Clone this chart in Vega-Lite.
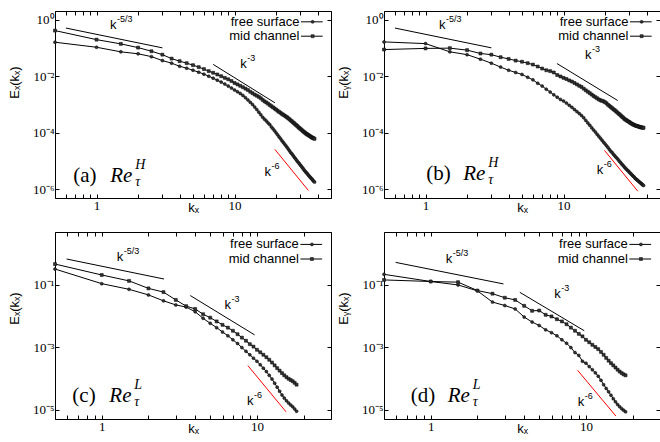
{
"$schema": "https://vega.github.io/schema/vega-lite/v6.json",
"padding": {"left": 7, "top": 10, "right": 0, "bottom": 0},
"background": "white",
"bounds": "flush",
"spacing": {"row": 34, "column": 53},
"columns": 2,
"datasets": {
"sa": [
{"s":"f","k":0.5,"E":1.58e-1},{"s":"f","k":1,"E":1.05e-1},{"s":"f","k":1.5,"E":7.24e-2},{"s":"f","k":2,"E":6.17e-2},{"s":"f","k":2.5,"E":4.90e-2},{"s":"f","k":3,"E":3.55e-2},{"s":"f","k":3.5,"E":2.88e-2},{"s":"f","k":4,"E":2.24e-2},{"s":"f","k":4.5,"E":1.91e-2},{"s":"f","k":5,"E":1.62e-2},{"s":"f","k":5.5,"E":1.38e-2},{"s":"f","k":6,"E":1.18e-2},{"s":"f","k":6.5,"E":1.00e-2},{"s":"f","k":7,"E":8.51e-3},{"s":"f","k":7.5,"E":7.24e-3},{"s":"f","k":8,"E":6.17e-3},{"s":"f","k":8.5,"E":5.25e-3},{"s":"f","k":9,"E":4.47e-3},{"s":"f","k":9.5,"E":3.80e-3},{"s":"f","k":10,"E":3.24e-3},{"s":"f","k":10.5,"E":2.82e-3},{"s":"f","k":11,"E":2.45e-3},{"s":"f","k":11.5,"E":2.09e-3},{"s":"f","k":12,"E":1.74e-3},{"s":"f","k":12.5,"E":1.45e-3},{"s":"f","k":13,"E":1.20e-3},{"s":"f","k":13.5,"E":1.00e-3},{"s":"f","k":14,"E":8.13e-4},{"s":"f","k":14.5,"E":6.61e-4},{"s":"f","k":15,"E":5.37e-4},{"s":"f","k":15.5,"E":4.37e-4},{"s":"f","k":16,"E":3.55e-4},{"s":"f","k":16.5,"E":3.02e-4},{"s":"f","k":17,"E":2.63e-4},{"s":"f","k":17.5,"E":2.24e-4},{"s":"f","k":18,"E":1.95e-4},{"s":"f","k":18.5,"E":1.62e-4},{"s":"f","k":19,"E":1.38e-4},{"s":"f","k":19.5,"E":1.18e-4},{"s":"f","k":20,"E":1.00e-4},{"s":"f","k":20.5,"E":8.51e-5},{"s":"f","k":21,"E":7.24e-5},{"s":"f","k":21.5,"E":6.31e-5},{"s":"f","k":22,"E":5.37e-5},{"s":"f","k":22.5,"E":4.68e-5},{"s":"f","k":23,"E":4.07e-5},{"s":"f","k":23.5,"E":3.55e-5},{"s":"f","k":24,"E":3.09e-5},{"s":"f","k":24.5,"E":2.69e-5},{"s":"f","k":25,"E":2.34e-5},{"s":"f","k":25.5,"E":2.04e-5},{"s":"f","k":26,"E":1.82e-5},{"s":"f","k":26.5,"E":1.62e-5},{"s":"f","k":27,"E":1.41e-5},{"s":"f","k":27.5,"E":1.26e-5},{"s":"f","k":28,"E":1.12e-5},{"s":"f","k":28.5,"E":1.00e-5},{"s":"f","k":29,"E":8.91e-6},{"s":"f","k":29.5,"E":8.13e-6},{"s":"f","k":30,"E":7.24e-6},{"s":"f","k":30.5,"E":6.61e-6},{"s":"f","k":31,"E":5.89e-6},{"s":"f","k":31.5,"E":5.37e-6},{"s":"f","k":32,"E":4.79e-6},{"s":"f","k":32.5,"E":4.37e-6},{"s":"f","k":33,"E":3.98e-6},{"s":"f","k":33.5,"E":3.72e-6},{"s":"f","k":34,"E":3.39e-6},{"s":"f","k":34.5,"E":3.09e-6},{"s":"f","k":35,"E":2.88e-6},{"s":"f","k":35.5,"E":2.63e-6},{"s":"f","k":36,"E":2.45e-6},{"s":"f","k":36.5,"E":2.29e-6},{"s":"f","k":37,"E":2.09e-6},{"s":"f","k":37.5,"E":1.95e-6},{"s":"f","k":38,"E":1.82e-6},
{"s":"m","k":0.5,"E":4.07e-1},{"s":"m","k":1,"E":1.95e-1},{"s":"m","k":1.5,"E":1.38e-1},{"s":"m","k":2,"E":1.02e-1},{"s":"m","k":2.5,"E":7.59e-2},{"s":"m","k":3,"E":5.75e-2},{"s":"m","k":3.5,"E":4.17e-2},{"s":"m","k":4,"E":3.39e-2},{"s":"m","k":4.5,"E":2.88e-2},{"s":"m","k":5,"E":2.45e-2},{"s":"m","k":5.5,"E":2.09e-2},{"s":"m","k":6,"E":1.78e-2},{"s":"m","k":6.5,"E":1.51e-2},{"s":"m","k":7,"E":1.32e-2},{"s":"m","k":7.5,"E":1.15e-2},{"s":"m","k":8,"E":1.00e-2},{"s":"m","k":8.5,"E":8.71e-3},{"s":"m","k":9,"E":7.76e-3},{"s":"m","k":9.5,"E":6.76e-3},{"s":"m","k":10,"E":5.75e-3},{"s":"m","k":10.5,"E":5.13e-3},{"s":"m","k":11,"E":4.57e-3},{"s":"m","k":11.5,"E":4.07e-3},{"s":"m","k":12,"E":3.63e-3},{"s":"m","k":12.5,"E":3.24e-3},{"s":"m","k":13,"E":2.82e-3},{"s":"m","k":13.5,"E":2.51e-3},{"s":"m","k":14,"E":2.24e-3},{"s":"m","k":14.5,"E":2.04e-3},{"s":"m","k":15,"E":1.86e-3},{"s":"m","k":15.5,"E":1.66e-3},{"s":"m","k":16,"E":1.45e-3},{"s":"m","k":16.5,"E":1.29e-3},{"s":"m","k":17,"E":1.18e-3},{"s":"m","k":17.5,"E":1.07e-3},{"s":"m","k":18,"E":9.55e-4},{"s":"m","k":18.5,"E":8.71e-4},{"s":"m","k":19,"E":7.94e-4},{"s":"m","k":19.5,"E":7.24e-4},{"s":"m","k":20,"E":6.61e-4},{"s":"m","k":20.5,"E":6.03e-4},{"s":"m","k":21,"E":5.50e-4},{"s":"m","k":21.5,"E":5.13e-4},{"s":"m","k":22,"E":4.68e-4},{"s":"m","k":22.5,"E":4.37e-4},{"s":"m","k":23,"E":4.07e-4},{"s":"m","k":23.5,"E":3.80e-4},{"s":"m","k":24,"E":3.55e-4},{"s":"m","k":24.5,"E":3.24e-4},{"s":"m","k":25,"E":3.02e-4},{"s":"m","k":25.5,"E":2.75e-4},{"s":"m","k":26,"E":2.57e-4},{"s":"m","k":26.5,"E":2.34e-4},{"s":"m","k":27,"E":2.19e-4},{"s":"m","k":27.5,"E":2.00e-4},{"s":"m","k":28,"E":1.86e-4},{"s":"m","k":28.5,"E":1.74e-4},{"s":"m","k":29,"E":1.58e-4},{"s":"m","k":29.5,"E":1.48e-4},{"s":"m","k":30,"E":1.38e-4},{"s":"m","k":30.5,"E":1.29e-4},{"s":"m","k":31,"E":1.20e-4},{"s":"m","k":31.5,"E":1.12e-4},{"s":"m","k":32,"E":1.05e-4},{"s":"m","k":32.5,"E":1.00e-4},{"s":"m","k":33,"E":9.33e-5},{"s":"m","k":33.5,"E":8.91e-5},{"s":"m","k":34,"E":8.51e-5},{"s":"m","k":34.5,"E":8.13e-5},{"s":"m","k":35,"E":7.76e-5},{"s":"m","k":35.5,"E":7.41e-5},{"s":"m","k":36,"E":7.08e-5},{"s":"m","k":36.5,"E":6.76e-5},{"s":"m","k":37,"E":6.61e-5},{"s":"m","k":37.5,"E":6.31e-5},{"s":"m","k":38,"E":6.17e-5}
],
"sb": [
{"s":"f","k":0.5,"E":1.62e-1},{"s":"f","k":1,"E":1.41e-1},{"s":"f","k":1.5,"E":7.24e-2},{"s":"f","k":2,"E":5.75e-2},{"s":"f","k":2.5,"E":3.98e-2},{"s":"f","k":3,"E":2.88e-2},{"s":"f","k":3.5,"E":2.09e-2},{"s":"f","k":4,"E":1.62e-2},{"s":"f","k":4.5,"E":1.35e-2},{"s":"f","k":5,"E":1.15e-2},{"s":"f","k":5.5,"E":9.12e-3},{"s":"f","k":6,"E":7.41e-3},{"s":"f","k":6.5,"E":5.62e-3},{"s":"f","k":7,"E":4.47e-3},{"s":"f","k":7.5,"E":3.47e-3},{"s":"f","k":8,"E":2.75e-3},{"s":"f","k":8.5,"E":2.19e-3},{"s":"f","k":9,"E":1.82e-3},{"s":"f","k":9.5,"E":1.51e-3},{"s":"f","k":10,"E":1.32e-3},{"s":"f","k":10.5,"E":1.12e-3},{"s":"f","k":11,"E":9.33e-4},{"s":"f","k":11.5,"E":7.94e-4},{"s":"f","k":12,"E":6.61e-4},{"s":"f","k":12.5,"E":5.62e-4},{"s":"f","k":13,"E":4.79e-4},{"s":"f","k":13.5,"E":4.07e-4},{"s":"f","k":14,"E":3.39e-4},{"s":"f","k":14.5,"E":2.75e-4},{"s":"f","k":15,"E":2.24e-4},{"s":"f","k":15.5,"E":1.86e-4},{"s":"f","k":16,"E":1.51e-4},{"s":"f","k":16.5,"E":1.26e-4},{"s":"f","k":17,"E":1.07e-4},{"s":"f","k":17.5,"E":8.91e-5},{"s":"f","k":18,"E":7.59e-5},{"s":"f","k":18.5,"E":6.46e-5},{"s":"f","k":19,"E":5.50e-5},{"s":"f","k":19.5,"E":4.68e-5},{"s":"f","k":20,"E":4.07e-5},{"s":"f","k":20.5,"E":3.47e-5},{"s":"f","k":21,"E":3.02e-5},{"s":"f","k":21.5,"E":2.57e-5},{"s":"f","k":22,"E":2.24e-5},{"s":"f","k":22.5,"E":2.00e-5},{"s":"f","k":23,"E":1.74e-5},{"s":"f","k":23.5,"E":1.55e-5},{"s":"f","k":24,"E":1.38e-5},{"s":"f","k":24.5,"E":1.23e-5},{"s":"f","k":25,"E":1.10e-5},{"s":"f","k":25.5,"E":9.77e-6},{"s":"f","k":26,"E":8.71e-6},{"s":"f","k":26.5,"E":7.76e-6},{"s":"f","k":27,"E":7.08e-6},{"s":"f","k":27.5,"E":6.31e-6},{"s":"f","k":28,"E":5.75e-6},{"s":"f","k":28.5,"E":5.25e-6},{"s":"f","k":29,"E":4.79e-6},{"s":"f","k":29.5,"E":4.47e-6},{"s":"f","k":30,"E":4.07e-6},{"s":"f","k":30.5,"E":3.72e-6},{"s":"f","k":31,"E":3.47e-6},{"s":"f","k":31.5,"E":3.16e-6},{"s":"f","k":32,"E":2.95e-6},{"s":"f","k":32.5,"E":2.75e-6},{"s":"f","k":33,"E":2.51e-6},{"s":"f","k":33.5,"E":2.34e-6},{"s":"f","k":34,"E":2.19e-6},{"s":"f","k":34.5,"E":2.09e-6},{"s":"f","k":35,"E":1.95e-6},{"s":"f","k":35.5,"E":1.82e-6},{"s":"f","k":36,"E":1.74e-6},{"s":"f","k":36.5,"E":1.62e-6},{"s":"f","k":37,"E":1.55e-6},{"s":"f","k":37.5,"E":1.45e-6},{"s":"f","k":38,"E":1.38e-6},
{"s":"m","k":0.5,"E":8.71e-2},{"s":"m","k":1,"E":9.55e-2},{"s":"m","k":1.5,"E":9.77e-2},{"s":"m","k":2,"E":8.32e-2},{"s":"m","k":2.5,"E":6.31e-2},{"s":"m","k":3,"E":5.75e-2},{"s":"m","k":3.5,"E":4.68e-2},{"s":"m","k":4,"E":4.07e-2},{"s":"m","k":4.5,"E":3.55e-2},{"s":"m","k":5,"E":3.24e-2},{"s":"m","k":5.5,"E":2.88e-2},{"s":"m","k":6,"E":2.57e-2},{"s":"m","k":6.5,"E":2.19e-2},{"s":"m","k":7,"E":1.86e-2},{"s":"m","k":7.5,"E":1.62e-2},{"s":"m","k":8,"E":1.51e-2},{"s":"m","k":8.5,"E":1.35e-2},{"s":"m","k":9,"E":1.10e-2},{"s":"m","k":9.5,"E":9.77e-3},{"s":"m","k":10,"E":8.71e-3},{"s":"m","k":10.5,"E":7.94e-3},{"s":"m","k":11,"E":7.08e-3},{"s":"m","k":11.5,"E":6.46e-3},{"s":"m","k":12,"E":5.75e-3},{"s":"m","k":12.5,"E":5.13e-3},{"s":"m","k":13,"E":4.57e-3},{"s":"m","k":13.5,"E":4.17e-3},{"s":"m","k":14,"E":3.63e-3},{"s":"m","k":14.5,"E":3.16e-3},{"s":"m","k":15,"E":2.82e-3},{"s":"m","k":15.5,"E":2.51e-3},{"s":"m","k":16,"E":2.24e-3},{"s":"m","k":16.5,"E":2.00e-3},{"s":"m","k":17,"E":1.82e-3},{"s":"m","k":17.5,"E":1.66e-3},{"s":"m","k":18,"E":1.51e-3},{"s":"m","k":18.5,"E":1.41e-3},{"s":"m","k":19,"E":1.35e-3},{"s":"m","k":19.5,"E":1.29e-3},{"s":"m","k":20,"E":1.20e-3},{"s":"m","k":20.5,"E":1.10e-3},{"s":"m","k":21,"E":9.77e-4},{"s":"m","k":21.5,"E":8.91e-4},{"s":"m","k":22,"E":8.13e-4},{"s":"m","k":22.5,"E":7.41e-4},{"s":"m","k":23,"E":6.76e-4},{"s":"m","k":23.5,"E":6.31e-4},{"s":"m","k":24,"E":5.75e-4},{"s":"m","k":24.5,"E":5.25e-4},{"s":"m","k":25,"E":4.79e-4},{"s":"m","k":25.5,"E":4.47e-4},{"s":"m","k":26,"E":4.07e-4},{"s":"m","k":26.5,"E":3.72e-4},{"s":"m","k":27,"E":3.47e-4},{"s":"m","k":27.5,"E":3.16e-4},{"s":"m","k":28,"E":2.95e-4},{"s":"m","k":28.5,"E":2.82e-4},{"s":"m","k":29,"E":2.63e-4},{"s":"m","k":29.5,"E":2.51e-4},{"s":"m","k":30,"E":2.40e-4},{"s":"m","k":30.5,"E":2.24e-4},{"s":"m","k":31,"E":2.14e-4},{"s":"m","k":31.5,"E":2.04e-4},{"s":"m","k":32,"E":1.95e-4},{"s":"m","k":32.5,"E":1.91e-4},{"s":"m","k":33,"E":1.82e-4},{"s":"m","k":33.5,"E":1.78e-4},{"s":"m","k":34,"E":1.74e-4},{"s":"m","k":34.5,"E":1.70e-4},{"s":"m","k":35,"E":1.66e-4},{"s":"m","k":35.5,"E":1.62e-4},{"s":"m","k":36,"E":1.58e-4},{"s":"m","k":36.5,"E":1.55e-4},{"s":"m","k":37,"E":1.55e-4},{"s":"m","k":37.5,"E":1.51e-4},{"s":"m","k":38,"E":1.51e-4}
],
"sc": [
{"s":"f","k":0.5,"E":3.24e-1},{"s":"f","k":1,"E":1.10e-1},{"s":"f","k":1.5,"E":7.24e-2},{"s":"f","k":2,"E":4.79e-2},{"s":"f","k":2.5,"E":3.09e-2},{"s":"f","k":3,"E":2.29e-2},{"s":"f","k":3.5,"E":1.95e-2},{"s":"f","k":4,"E":1.38e-2},{"s":"f","k":4.5,"E":8.51e-3},{"s":"f","k":5,"E":5.89e-3},{"s":"f","k":5.5,"E":4.27e-3},{"s":"f","k":6,"E":3.09e-3},{"s":"f","k":6.5,"E":2.34e-3},{"s":"f","k":7,"E":1.74e-3},{"s":"f","k":7.5,"E":1.32e-3},{"s":"f","k":8,"E":9.77e-4},{"s":"f","k":8.5,"E":7.41e-4},{"s":"f","k":9,"E":5.75e-4},{"s":"f","k":9.5,"E":4.47e-4},{"s":"f","k":10,"E":3.55e-4},{"s":"f","k":10.5,"E":2.75e-4},{"s":"f","k":11,"E":2.14e-4},{"s":"f","k":11.5,"E":1.66e-4},{"s":"f","k":12,"E":1.26e-4},{"s":"f","k":12.5,"E":9.55e-5},{"s":"f","k":13,"E":7.08e-5},{"s":"f","k":13.5,"E":5.25e-5},{"s":"f","k":14,"E":3.89e-5},{"s":"f","k":14.5,"E":2.95e-5},{"s":"f","k":15,"E":2.34e-5},{"s":"f","k":15.5,"E":1.91e-5},{"s":"f","k":16,"E":1.62e-5},{"s":"f","k":16.5,"E":1.41e-5},{"s":"f","k":17,"E":1.23e-5},{"s":"f","k":17.5,"E":1.05e-5},{"s":"f","k":18,"E":8.91e-6},
{"s":"m","k":0.5,"E":4.68e-1},{"s":"m","k":1,"E":2.09e-1},{"s":"m","k":1.5,"E":1.35e-1},{"s":"m","k":2,"E":7.76e-2},{"s":"m","k":2.5,"E":5.89e-2},{"s":"m","k":3,"E":3.31e-2},{"s":"m","k":3.5,"E":2.09e-2},{"s":"m","k":4,"E":1.70e-2},{"s":"m","k":4.5,"E":1.15e-2},{"s":"m","k":5,"E":8.91e-3},{"s":"m","k":5.5,"E":6.76e-3},{"s":"m","k":6,"E":5.25e-3},{"s":"m","k":6.5,"E":4.27e-3},{"s":"m","k":7,"E":3.39e-3},{"s":"m","k":7.5,"E":2.63e-3},{"s":"m","k":8,"E":2.04e-3},{"s":"m","k":8.5,"E":1.62e-3},{"s":"m","k":9,"E":1.26e-3},{"s":"m","k":9.5,"E":1.05e-3},{"s":"m","k":10,"E":8.32e-4},{"s":"m","k":10.5,"E":6.92e-4},{"s":"m","k":11,"E":5.75e-4},{"s":"m","k":11.5,"E":4.79e-4},{"s":"m","k":12,"E":3.98e-4},{"s":"m","k":12.5,"E":3.24e-4},{"s":"m","k":13,"E":2.63e-4},{"s":"m","k":13.5,"E":2.14e-4},{"s":"m","k":14,"E":1.78e-4},{"s":"m","k":14.5,"E":1.48e-4},{"s":"m","k":15,"E":1.26e-4},{"s":"m","k":15.5,"E":1.10e-4},{"s":"m","k":16,"E":9.77e-5},{"s":"m","k":16.5,"E":8.91e-5},{"s":"m","k":17,"E":8.13e-5},{"s":"m","k":17.5,"E":7.24e-5},{"s":"m","k":18,"E":6.31e-5}
],
"sd": [
{"s":"f","k":0.5,"E":2.19e-1},{"s":"f","k":1,"E":1.29e-1},{"s":"f","k":1.5,"E":1.00e-1},{"s":"f","k":2,"E":6.46e-2},{"s":"f","k":2.5,"E":2.82e-2},{"s":"f","k":3,"E":2.19e-2},{"s":"f","k":3.5,"E":1.70e-2},{"s":"f","k":4,"E":9.33e-3},{"s":"f","k":4.5,"E":6.46e-3},{"s":"f","k":5,"E":5.01e-3},{"s":"f","k":5.5,"E":3.63e-3},{"s":"f","k":6,"E":2.95e-3},{"s":"f","k":6.5,"E":2.34e-3},{"s":"f","k":7,"E":1.74e-3},{"s":"f","k":7.5,"E":1.35e-3},{"s":"f","k":8,"E":9.77e-4},{"s":"f","k":8.5,"E":6.76e-4},{"s":"f","k":9,"E":5.50e-4},{"s":"f","k":9.5,"E":3.55e-4},{"s":"f","k":10,"E":3.09e-4},{"s":"f","k":10.5,"E":2.40e-4},{"s":"f","k":11,"E":1.91e-4},{"s":"f","k":11.5,"E":1.51e-4},{"s":"f","k":12,"E":1.18e-4},{"s":"f","k":12.5,"E":8.71e-5},{"s":"f","k":13,"E":6.31e-5},{"s":"f","k":13.5,"E":4.79e-5},{"s":"f","k":14,"E":3.72e-5},{"s":"f","k":14.5,"E":2.88e-5},{"s":"f","k":15,"E":2.24e-5},{"s":"f","k":15.5,"E":1.78e-5},{"s":"f","k":16,"E":1.45e-5},{"s":"f","k":16.5,"E":1.23e-5},{"s":"f","k":17,"E":1.07e-5},{"s":"f","k":17.5,"E":9.55e-6},{"s":"f","k":18,"E":8.51e-6},
{"s":"m","k":0.5,"E":1.45e-1},{"s":"m","k":1,"E":1.29e-1},{"s":"m","k":1.5,"E":1.23e-1},{"s":"m","k":2,"E":6.61e-2},{"s":"m","k":2.5,"E":5.25e-2},{"s":"m","k":3,"E":3.89e-2},{"s":"m","k":3.5,"E":3.31e-2},{"s":"m","k":4,"E":2.14e-2},{"s":"m","k":4.5,"E":1.48e-2},{"s":"m","k":5,"E":1.51e-2},{"s":"m","k":5.5,"E":1.10e-2},{"s":"m","k":6,"E":9.77e-3},{"s":"m","k":6.5,"E":7.94e-3},{"s":"m","k":7,"E":6.76e-3},{"s":"m","k":7.5,"E":5.50e-3},{"s":"m","k":8,"E":4.27e-3},{"s":"m","k":8.5,"E":3.39e-3},{"s":"m","k":9,"E":2.69e-3},{"s":"m","k":9.5,"E":2.24e-3},{"s":"m","k":10,"E":1.74e-3},{"s":"m","k":10.5,"E":1.45e-3},{"s":"m","k":11,"E":1.20e-3},{"s":"m","k":11.5,"E":1.02e-3},{"s":"m","k":12,"E":8.71e-4},{"s":"m","k":12.5,"E":7.08e-4},{"s":"m","k":13,"E":5.75e-4},{"s":"m","k":13.5,"E":4.57e-4},{"s":"m","k":14,"E":3.72e-4},{"s":"m","k":14.5,"E":3.09e-4},{"s":"m","k":15,"E":2.63e-4},{"s":"m","k":15.5,"E":2.24e-4},{"s":"m","k":16,"E":1.91e-4},{"s":"m","k":16.5,"E":1.66e-4},{"s":"m","k":17,"E":1.48e-4},{"s":"m","k":17.5,"E":1.35e-4},{"s":"m","k":18,"E":1.26e-4}
],
"ref": [
{"p":"a","slope":"-5/3","x1":0.6,"y1":0.5,"x2":3,"y2":0.1},
{"p":"a","slope":"-3","x1":7,"y1":0.026,"x2":19.6,"y2":0.00115},
{"p":"a","slope":"-6","x1":19.6,"y1":2.6e-5,"x2":34.3,"y2":9.2e-7},
{"p":"b","slope":"-5/3","x1":0.6,"y1":0.5,"x2":3,"y2":0.1},
{"p":"b","slope":"-3","x1":8.95,"y1":0.028,"x2":24.7,"y2":0.00138},
{"p":"b","slope":"-6","x1":19.8,"y1":2.4e-5,"x2":34.5,"y2":8.7e-7},
{"p":"c","slope":"-5/3","x1":0.594,"y1":0.68,"x2":2.52,"y2":0.155},
{"p":"c","slope":"-3","x1":3.72,"y1":0.0457,"x2":9.66,"y2":0.0025},
{"p":"c","slope":"-6","x1":8.75,"y1":2.57e-4,"x2":15.4,"y2":8.5e-6},
{"p":"d","slope":"-5/3","x1":0.594,"y1":0.53,"x2":2.94,"y2":0.108},
{"p":"d","slope":"-3","x1":3.75,"y1":0.058,"x2":9.75,"y2":0.0034},
{"p":"d","slope":"-6","x1":8.84,"y1":1.82e-4,"x2":15.6,"y2":6.2e-6}
],
"lab": [
{"p":"a","slope":"-5/3","x":1.25,"y":0.667},{"p":"a","slope":"-3","x":11.0,"y":0.0265},{"p":"a","slope":"-6","x":16.5,"y":4.2e-6},
{"p":"b","slope":"-5/3","x":1.25,"y":0.667},{"p":"b","slope":"-3","x":14.3,"y":0.0537},{"p":"b","slope":"-6","x":17.4,"y":4.7e-6},
{"p":"c","slope":"-5/3","x":1.25,"y":0.787},{"p":"c","slope":"-3","x":6.19,"y":0.0229},{"p":"c","slope":"-6","x":8.62,"y":1.94e-5},
{"p":"d","slope":"-5/3","x":1.25,"y":0.679},{"p":"d","slope":"-3","x":6.25,"y":0.0528},{"p":"d","slope":"-6","x":8.84,"y":1.72e-5}
],
"tag": [
{"p":"a","tag":"(a)","sup":"H","x":0.678,"y":2.95e-6},
{"p":"b","tag":"(b)","sup":"H","x":1.01,"y":3.4e-6},
{"p":"c","tag":"(c)","sup":"L","x":0.647,"y":2.67e-5},
{"p":"d","tag":"(d)","sup":"L","x":0.743,"y":2.67e-5}
],
"leg": [
{"p":"a","s":"f","name":"free surface","xt":29.5,"x1":30.3,"x2":43.5,"xm":36.8,"y":0.83},
{"p":"a","s":"m","name":"mid channel","xt":29.5,"x1":30.3,"x2":43.5,"xm":36.8,"y":0.258},
{"p":"b","s":"f","name":"free surface","xt":29.5,"x1":30.3,"x2":43.5,"xm":36.8,"y":0.83},
{"p":"b","s":"m","name":"mid channel","xt":29.5,"x1":30.3,"x2":43.5,"xm":36.8,"y":0.258},
{"p":"c","s":"f","name":"free surface","xt":18.6,"x1":19.05,"x2":26.3,"xm":22.6,"y":2.0},
{"p":"c","s":"m","name":"mid channel","xt":18.6,"x1":19.05,"x2":26.3,"xm":22.6,"y":0.68},
{"p":"d","s":"f","name":"free surface","xt":18.6,"x1":19.05,"x2":26.3,"xm":22.6,"y":2.0},
{"p":"d","s":"m","name":"mid channel","xt":18.6,"x1":19.05,"x2":26.3,"xm":22.6,"y":0.68}
]
},
"concat": [
{"width":276,"height":187,"layer":[
{"data":{"name":"sa"},"mark":{"type":"line","color":"black","strokeWidth":1},"encoding":{
"x":{"field":"k","type":"quantitative","scale":{"type":"log","domain":[0.5,50],"nice":false},"axis":{"orient":"bottom","values":[0.5,0.6,0.7,0.8,0.9,1,2,3,4,5,6,7,8,9,10,20,30,40,50],"labelExpr":"datum.value == 1 ? '1' : datum.value == 10 ? '10' : ''","title":"kₓ","titleY":13,"titleBaseline":"alphabetic"}},
"y":{"field":"E","type":"quantitative","scale":{"type":"log","domain":[5e-7,2],"nice":false},"axis":{"orient":"left","values":[1,0.01,0.0001,0.000001],"labelExpr":"datum.value > 0.5 ? '10⁰' : datum.value > 0.005 ? '10⁻²' : datum.value > 0.00005 ? '10⁻⁴' : '10⁻⁶'","title":"Eₓ(kₓ)","titleX":-37,"titleY":71,"titleBaseline":"alphabetic"}},
"detail":{"field":"s"}}},
{"data":{"name":"sa"},"mark":{"type":"point","filled":true,"color":"#333","stroke":"black","strokeWidth":0.5,"size":9,"opacity":1},"encoding":{"x":{"field":"k","type":"quantitative","axis":null},"y":{"field":"E","type":"quantitative","axis":null},"shape":{"field":"s","type":"nominal","scale":{"domain":["f","m"],"range":["circle","square"]},"legend":null}}},
{"data":{"name":"ref"},"transform":[{"filter":"datum.p == 'a' && datum.slope != '-6'"}],"mark":{"type":"rule","color":"black","strokeWidth":1},"encoding":{"x":{"field":"x1","type":"quantitative","axis":{"orient":"top","values":[0.5,0.6,0.7,0.8,0.9,1,2,3,4,5,6,7,8,9,10,20,30,40,50],"labels":false,"title":null}},"x2":{"field":"x2"},"y":{"field":"y1","type":"quantitative","axis":{"orient":"right","values":[1,0.01,0.0001,0.000001],"labels":false,"title":null}},"y2":{"field":"y2"}}},
{"data":{"name":"ref"},"transform":[{"filter":"datum.p == 'a' && datum.slope == '-6'"}],"mark":{"type":"rule","color":"red","strokeWidth":1},"encoding":{"x":{"field":"x1","type":"quantitative","axis":null},"x2":{"field":"x2"},"y":{"field":"y1","type":"quantitative","axis":null},"y2":{"field":"y2"}}},
{"data":{"name":"lab"},"transform":[{"filter":"datum.p == 'a'"}],"mark":{"type":"text","text":"k","align":"left","baseline":"middle","fontSize":13},"encoding":{"x":{"field":"x","type":"quantitative","axis":null},"y":{"field":"y","type":"quantitative","axis":null}}},
{"data":{"name":"lab"},"transform":[{"filter":"datum.p == 'a'"}],"mark":{"type":"text","align":"left","baseline":"middle","fontSize":9,"dx":7,"dy":-6},"encoding":{"x":{"field":"x","type":"quantitative","axis":null},"y":{"field":"y","type":"quantitative","axis":null},"text":{"field":"slope"}}},
{"data":{"name":"tag"},"transform":[{"filter":"datum.p == 'a'"}],"mark":{"type":"text","font":"Liberation Serif","fontSize":21,"align":"left","baseline":"middle"},"encoding":{"x":{"field":"x","type":"quantitative","axis":null},"y":{"field":"y","type":"quantitative","axis":null},"text":{"field":"tag"}}},
{"data":{"name":"tag"},"transform":[{"filter":"datum.p == 'a'"}],"mark":{"type":"text","text":"Re","font":"Liberation Serif","fontStyle":"italic","fontSize":21,"align":"left","baseline":"middle","dx":37},"encoding":{"x":{"field":"x","type":"quantitative","axis":null},"y":{"field":"y","type":"quantitative","axis":null}}},
{"data":{"name":"tag"},"transform":[{"filter":"datum.p == 'a'"}],"mark":{"type":"text","font":"Liberation Serif","fontStyle":"italic","fontSize":14,"align":"left","baseline":"middle","dx":62,"dy":-11},"encoding":{"x":{"field":"x","type":"quantitative","axis":null},"y":{"field":"y","type":"quantitative","axis":null},"text":{"field":"sup"}}},
{"data":{"name":"tag"},"transform":[{"filter":"datum.p == 'a'"}],"mark":{"type":"text","text":"τ","font":"Liberation Serif","fontStyle":"italic","fontSize":14,"align":"left","baseline":"middle","dx":62,"dy":6},"encoding":{"x":{"field":"x","type":"quantitative","axis":null},"y":{"field":"y","type":"quantitative","axis":null}}},
{"data":{"name":"leg"},"transform":[{"filter":"datum.p == 'a'"}],"mark":{"type":"text","align":"right","baseline":"middle","fontSize":13},"encoding":{"x":{"field":"xt","type":"quantitative","axis":null},"y":{"field":"y","type":"quantitative","axis":null},"text":{"field":"name"}}},
{"data":{"name":"leg"},"transform":[{"filter":"datum.p == 'a'"}],"mark":{"type":"rule","color":"black","strokeWidth":1},"encoding":{"x":{"field":"x1","type":"quantitative","axis":null},"x2":{"field":"x2"},"y":{"field":"y","type":"quantitative","axis":null}}},
{"data":{"name":"leg"},"transform":[{"filter":"datum.p == 'a'"}],"mark":{"type":"point","filled":true,"color":"#333","stroke":"black","strokeWidth":0.5,"size":9,"opacity":1},"encoding":{"x":{"field":"xm","type":"quantitative","axis":null},"y":{"field":"y","type":"quantitative","axis":null},"shape":{"field":"s","type":"nominal","legend":null}}}
]},
{"width":276,"height":187,"layer":[
{"data":{"name":"sb"},"mark":{"type":"line","color":"black","strokeWidth":1},"encoding":{
"x":{"field":"k","type":"quantitative","scale":{"type":"log","domain":[0.5,50],"nice":false},"axis":{"orient":"bottom","values":[0.5,0.6,0.7,0.8,0.9,1,2,3,4,5,6,7,8,9,10,20,30,40,50],"labelExpr":"datum.value == 1 ? '1' : datum.value == 10 ? '10' : ''","title":"kₓ","titleY":13,"titleBaseline":"alphabetic"}},
"y":{"field":"E","type":"quantitative","scale":{"type":"log","domain":[5e-7,2],"nice":false},"axis":{"orient":"left","values":[1,0.01,0.0001,0.000001],"labelExpr":"datum.value > 0.5 ? '10⁰' : datum.value > 0.005 ? '10⁻²' : datum.value > 0.00005 ? '10⁻⁴' : '10⁻⁶'","title":"Eᵧ(kₓ)","titleX":-37,"titleY":71,"titleBaseline":"alphabetic"}},
"detail":{"field":"s"}}},
{"data":{"name":"sb"},"mark":{"type":"point","filled":true,"color":"#333","stroke":"black","strokeWidth":0.5,"size":9,"opacity":1},"encoding":{"x":{"field":"k","type":"quantitative","axis":null},"y":{"field":"E","type":"quantitative","axis":null},"shape":{"field":"s","type":"nominal","scale":{"domain":["f","m"],"range":["circle","square"]},"legend":null}}},
{"data":{"name":"ref"},"transform":[{"filter":"datum.p == 'b' && datum.slope != '-6'"}],"mark":{"type":"rule","color":"black","strokeWidth":1},"encoding":{"x":{"field":"x1","type":"quantitative","axis":{"orient":"top","values":[0.5,0.6,0.7,0.8,0.9,1,2,3,4,5,6,7,8,9,10,20,30,40,50],"labels":false,"title":null}},"x2":{"field":"x2"},"y":{"field":"y1","type":"quantitative","axis":{"orient":"right","values":[1,0.01,0.0001,0.000001],"labels":false,"title":null}},"y2":{"field":"y2"}}},
{"data":{"name":"ref"},"transform":[{"filter":"datum.p == 'b' && datum.slope == '-6'"}],"mark":{"type":"rule","color":"red","strokeWidth":1},"encoding":{"x":{"field":"x1","type":"quantitative","axis":null},"x2":{"field":"x2"},"y":{"field":"y1","type":"quantitative","axis":null},"y2":{"field":"y2"}}},
{"data":{"name":"lab"},"transform":[{"filter":"datum.p == 'b'"}],"mark":{"type":"text","text":"k","align":"left","baseline":"middle","fontSize":13},"encoding":{"x":{"field":"x","type":"quantitative","axis":null},"y":{"field":"y","type":"quantitative","axis":null}}},
{"data":{"name":"lab"},"transform":[{"filter":"datum.p == 'b'"}],"mark":{"type":"text","align":"left","baseline":"middle","fontSize":9,"dx":7,"dy":-6},"encoding":{"x":{"field":"x","type":"quantitative","axis":null},"y":{"field":"y","type":"quantitative","axis":null},"text":{"field":"slope"}}},
{"data":{"name":"tag"},"transform":[{"filter":"datum.p == 'b'"}],"mark":{"type":"text","font":"Liberation Serif","fontSize":21,"align":"left","baseline":"middle"},"encoding":{"x":{"field":"x","type":"quantitative","axis":null},"y":{"field":"y","type":"quantitative","axis":null},"text":{"field":"tag"}}},
{"data":{"name":"tag"},"transform":[{"filter":"datum.p == 'b'"}],"mark":{"type":"text","text":"Re","font":"Liberation Serif","fontStyle":"italic","fontSize":21,"align":"left","baseline":"middle","dx":37},"encoding":{"x":{"field":"x","type":"quantitative","axis":null},"y":{"field":"y","type":"quantitative","axis":null}}},
{"data":{"name":"tag"},"transform":[{"filter":"datum.p == 'b'"}],"mark":{"type":"text","font":"Liberation Serif","fontStyle":"italic","fontSize":14,"align":"left","baseline":"middle","dx":62,"dy":-11},"encoding":{"x":{"field":"x","type":"quantitative","axis":null},"y":{"field":"y","type":"quantitative","axis":null},"text":{"field":"sup"}}},
{"data":{"name":"tag"},"transform":[{"filter":"datum.p == 'b'"}],"mark":{"type":"text","text":"τ","font":"Liberation Serif","fontStyle":"italic","fontSize":14,"align":"left","baseline":"middle","dx":62,"dy":6},"encoding":{"x":{"field":"x","type":"quantitative","axis":null},"y":{"field":"y","type":"quantitative","axis":null}}},
{"data":{"name":"leg"},"transform":[{"filter":"datum.p == 'b'"}],"mark":{"type":"text","align":"right","baseline":"middle","fontSize":13},"encoding":{"x":{"field":"xt","type":"quantitative","axis":null},"y":{"field":"y","type":"quantitative","axis":null},"text":{"field":"name"}}},
{"data":{"name":"leg"},"transform":[{"filter":"datum.p == 'b'"}],"mark":{"type":"rule","color":"black","strokeWidth":1},"encoding":{"x":{"field":"x1","type":"quantitative","axis":null},"x2":{"field":"x2"},"y":{"field":"y","type":"quantitative","axis":null}}},
{"data":{"name":"leg"},"transform":[{"filter":"datum.p == 'b'"}],"mark":{"type":"point","filled":true,"color":"#333","stroke":"black","strokeWidth":0.5,"size":9,"opacity":1},"encoding":{"x":{"field":"xm","type":"quantitative","axis":null},"y":{"field":"y","type":"quantitative","axis":null},"shape":{"field":"s","type":"nominal","legend":null}}}
]},
{"width":276,"height":187,"layer":[
{"data":{"name":"sc"},"mark":{"type":"line","color":"black","strokeWidth":1},"encoding":{
"x":{"field":"k","type":"quantitative","scale":{"type":"log","domain":[0.5,30],"nice":false},"axis":{"orient":"bottom","values":[0.5,0.6,0.7,0.8,0.9,1,2,3,4,5,6,7,8,9,10,20,30],"labelExpr":"datum.value == 1 ? '1' : datum.value == 10 ? '10' : ''","title":"kₓ","titleY":13,"titleBaseline":"alphabetic"}},
"y":{"field":"E","type":"quantitative","scale":{"type":"log","domain":[5e-6,5],"nice":false},"axis":{"orient":"left","values":[0.1,0.001,0.00001],"labelExpr":"datum.value > 0.05 ? '10⁻¹' : datum.value > 0.0005 ? '10⁻³' : '10⁻⁵'","title":"Eₓ(kₓ)","titleX":-37,"titleY":76,"titleBaseline":"alphabetic"}},
"detail":{"field":"s"}}},
{"data":{"name":"sc"},"mark":{"type":"point","filled":true,"color":"#333","stroke":"black","strokeWidth":0.5,"size":9,"opacity":1},"encoding":{"x":{"field":"k","type":"quantitative","axis":null},"y":{"field":"E","type":"quantitative","axis":null},"shape":{"field":"s","type":"nominal","scale":{"domain":["f","m"],"range":["circle","square"]},"legend":null}}},
{"data":{"name":"ref"},"transform":[{"filter":"datum.p == 'c' && datum.slope != '-6'"}],"mark":{"type":"rule","color":"black","strokeWidth":1},"encoding":{"x":{"field":"x1","type":"quantitative","axis":{"orient":"top","values":[0.5,0.6,0.7,0.8,0.9,1,2,3,4,5,6,7,8,9,10,20,30],"labels":false,"title":null}},"x2":{"field":"x2"},"y":{"field":"y1","type":"quantitative","axis":{"orient":"right","values":[0.1,0.001,0.00001],"labels":false,"title":null}},"y2":{"field":"y2"}}},
{"data":{"name":"ref"},"transform":[{"filter":"datum.p == 'c' && datum.slope == '-6'"}],"mark":{"type":"rule","color":"red","strokeWidth":1},"encoding":{"x":{"field":"x1","type":"quantitative","axis":null},"x2":{"field":"x2"},"y":{"field":"y1","type":"quantitative","axis":null},"y2":{"field":"y2"}}},
{"data":{"name":"lab"},"transform":[{"filter":"datum.p == 'c'"}],"mark":{"type":"text","text":"k","align":"left","baseline":"middle","fontSize":13},"encoding":{"x":{"field":"x","type":"quantitative","axis":null},"y":{"field":"y","type":"quantitative","axis":null}}},
{"data":{"name":"lab"},"transform":[{"filter":"datum.p == 'c'"}],"mark":{"type":"text","align":"left","baseline":"middle","fontSize":9,"dx":7,"dy":-6},"encoding":{"x":{"field":"x","type":"quantitative","axis":null},"y":{"field":"y","type":"quantitative","axis":null},"text":{"field":"slope"}}},
{"data":{"name":"tag"},"transform":[{"filter":"datum.p == 'c'"}],"mark":{"type":"text","font":"Liberation Serif","fontSize":21,"align":"left","baseline":"middle"},"encoding":{"x":{"field":"x","type":"quantitative","axis":null},"y":{"field":"y","type":"quantitative","axis":null},"text":{"field":"tag"}}},
{"data":{"name":"tag"},"transform":[{"filter":"datum.p == 'c'"}],"mark":{"type":"text","text":"Re","font":"Liberation Serif","fontStyle":"italic","fontSize":21,"align":"left","baseline":"middle","dx":37},"encoding":{"x":{"field":"x","type":"quantitative","axis":null},"y":{"field":"y","type":"quantitative","axis":null}}},
{"data":{"name":"tag"},"transform":[{"filter":"datum.p == 'c'"}],"mark":{"type":"text","font":"Liberation Serif","fontStyle":"italic","fontSize":14,"align":"left","baseline":"middle","dx":62,"dy":-11},"encoding":{"x":{"field":"x","type":"quantitative","axis":null},"y":{"field":"y","type":"quantitative","axis":null},"text":{"field":"sup"}}},
{"data":{"name":"tag"},"transform":[{"filter":"datum.p == 'c'"}],"mark":{"type":"text","text":"τ","font":"Liberation Serif","fontStyle":"italic","fontSize":14,"align":"left","baseline":"middle","dx":62,"dy":6},"encoding":{"x":{"field":"x","type":"quantitative","axis":null},"y":{"field":"y","type":"quantitative","axis":null}}},
{"data":{"name":"leg"},"transform":[{"filter":"datum.p == 'c'"}],"mark":{"type":"text","align":"right","baseline":"middle","fontSize":13},"encoding":{"x":{"field":"xt","type":"quantitative","axis":null},"y":{"field":"y","type":"quantitative","axis":null},"text":{"field":"name"}}},
{"data":{"name":"leg"},"transform":[{"filter":"datum.p == 'c'"}],"mark":{"type":"rule","color":"black","strokeWidth":1},"encoding":{"x":{"field":"x1","type":"quantitative","axis":null},"x2":{"field":"x2"},"y":{"field":"y","type":"quantitative","axis":null}}},
{"data":{"name":"leg"},"transform":[{"filter":"datum.p == 'c'"}],"mark":{"type":"point","filled":true,"color":"#333","stroke":"black","strokeWidth":0.5,"size":9,"opacity":1},"encoding":{"x":{"field":"xm","type":"quantitative","axis":null},"y":{"field":"y","type":"quantitative","axis":null},"shape":{"field":"s","type":"nominal","legend":null}}}
]},
{"width":276,"height":187,"layer":[
{"data":{"name":"sd"},"mark":{"type":"line","color":"black","strokeWidth":1},"encoding":{
"x":{"field":"k","type":"quantitative","scale":{"type":"log","domain":[0.5,30],"nice":false},"axis":{"orient":"bottom","values":[0.5,0.6,0.7,0.8,0.9,1,2,3,4,5,6,7,8,9,10,20,30],"labelExpr":"datum.value == 1 ? '1' : datum.value == 10 ? '10' : ''","title":"kₓ","titleY":13,"titleBaseline":"alphabetic"}},
"y":{"field":"E","type":"quantitative","scale":{"type":"log","domain":[5e-6,5],"nice":false},"axis":{"orient":"left","values":[0.1,0.001,0.00001],"labelExpr":"datum.value > 0.05 ? '10⁻¹' : datum.value > 0.0005 ? '10⁻³' : '10⁻⁵'","title":"Eᵧ(kₓ)","titleX":-37,"titleY":76,"titleBaseline":"alphabetic"}},
"detail":{"field":"s"}}},
{"data":{"name":"sd"},"mark":{"type":"point","filled":true,"color":"#333","stroke":"black","strokeWidth":0.5,"size":9,"opacity":1},"encoding":{"x":{"field":"k","type":"quantitative","axis":null},"y":{"field":"E","type":"quantitative","axis":null},"shape":{"field":"s","type":"nominal","scale":{"domain":["f","m"],"range":["circle","square"]},"legend":null}}},
{"data":{"name":"ref"},"transform":[{"filter":"datum.p == 'd' && datum.slope != '-6'"}],"mark":{"type":"rule","color":"black","strokeWidth":1},"encoding":{"x":{"field":"x1","type":"quantitative","axis":{"orient":"top","values":[0.5,0.6,0.7,0.8,0.9,1,2,3,4,5,6,7,8,9,10,20,30],"labels":false,"title":null}},"x2":{"field":"x2"},"y":{"field":"y1","type":"quantitative","axis":{"orient":"right","values":[0.1,0.001,0.00001],"labels":false,"title":null}},"y2":{"field":"y2"}}},
{"data":{"name":"ref"},"transform":[{"filter":"datum.p == 'd' && datum.slope == '-6'"}],"mark":{"type":"rule","color":"red","strokeWidth":1},"encoding":{"x":{"field":"x1","type":"quantitative","axis":null},"x2":{"field":"x2"},"y":{"field":"y1","type":"quantitative","axis":null},"y2":{"field":"y2"}}},
{"data":{"name":"lab"},"transform":[{"filter":"datum.p == 'd'"}],"mark":{"type":"text","text":"k","align":"left","baseline":"middle","fontSize":13},"encoding":{"x":{"field":"x","type":"quantitative","axis":null},"y":{"field":"y","type":"quantitative","axis":null}}},
{"data":{"name":"lab"},"transform":[{"filter":"datum.p == 'd'"}],"mark":{"type":"text","align":"left","baseline":"middle","fontSize":9,"dx":7,"dy":-6},"encoding":{"x":{"field":"x","type":"quantitative","axis":null},"y":{"field":"y","type":"quantitative","axis":null},"text":{"field":"slope"}}},
{"data":{"name":"tag"},"transform":[{"filter":"datum.p == 'd'"}],"mark":{"type":"text","font":"Liberation Serif","fontSize":21,"align":"left","baseline":"middle"},"encoding":{"x":{"field":"x","type":"quantitative","axis":null},"y":{"field":"y","type":"quantitative","axis":null},"text":{"field":"tag"}}},
{"data":{"name":"tag"},"transform":[{"filter":"datum.p == 'd'"}],"mark":{"type":"text","text":"Re","font":"Liberation Serif","fontStyle":"italic","fontSize":21,"align":"left","baseline":"middle","dx":37},"encoding":{"x":{"field":"x","type":"quantitative","axis":null},"y":{"field":"y","type":"quantitative","axis":null}}},
{"data":{"name":"tag"},"transform":[{"filter":"datum.p == 'd'"}],"mark":{"type":"text","font":"Liberation Serif","fontStyle":"italic","fontSize":14,"align":"left","baseline":"middle","dx":62,"dy":-11},"encoding":{"x":{"field":"x","type":"quantitative","axis":null},"y":{"field":"y","type":"quantitative","axis":null},"text":{"field":"sup"}}},
{"data":{"name":"tag"},"transform":[{"filter":"datum.p == 'd'"}],"mark":{"type":"text","text":"τ","font":"Liberation Serif","fontStyle":"italic","fontSize":14,"align":"left","baseline":"middle","dx":62,"dy":6},"encoding":{"x":{"field":"x","type":"quantitative","axis":null},"y":{"field":"y","type":"quantitative","axis":null}}},
{"data":{"name":"leg"},"transform":[{"filter":"datum.p == 'd'"}],"mark":{"type":"text","align":"right","baseline":"middle","fontSize":13},"encoding":{"x":{"field":"xt","type":"quantitative","axis":null},"y":{"field":"y","type":"quantitative","axis":null},"text":{"field":"name"}}},
{"data":{"name":"leg"},"transform":[{"filter":"datum.p == 'd'"}],"mark":{"type":"rule","color":"black","strokeWidth":1},"encoding":{"x":{"field":"x1","type":"quantitative","axis":null},"x2":{"field":"x2"},"y":{"field":"y","type":"quantitative","axis":null}}},
{"data":{"name":"leg"},"transform":[{"filter":"datum.p == 'd'"}],"mark":{"type":"point","filled":true,"color":"#333","stroke":"black","strokeWidth":0.5,"size":9,"opacity":1},"encoding":{"x":{"field":"xm","type":"quantitative","axis":null},"y":{"field":"y","type":"quantitative","axis":null},"shape":{"field":"s","type":"nominal","legend":null}}}
]}
],
"config": {
"view": {"stroke": "black", "strokeWidth": 1},
"axis": {"domain": false, "grid": false, "tickColor": "black", "tickSize": -4, "labelPadding": 5, "labelFont": "Liberation Serif", "labelFontSize": 13, "labelColor": "black", "titleFont": "Liberation Sans", "titleFontSize": 13, "titleFontWeight": "normal", "titleColor": "black", "labelOverlap": false, "labelFlush": false},
"text": {"font": "Liberation Sans", "color": "black"}
}
}
